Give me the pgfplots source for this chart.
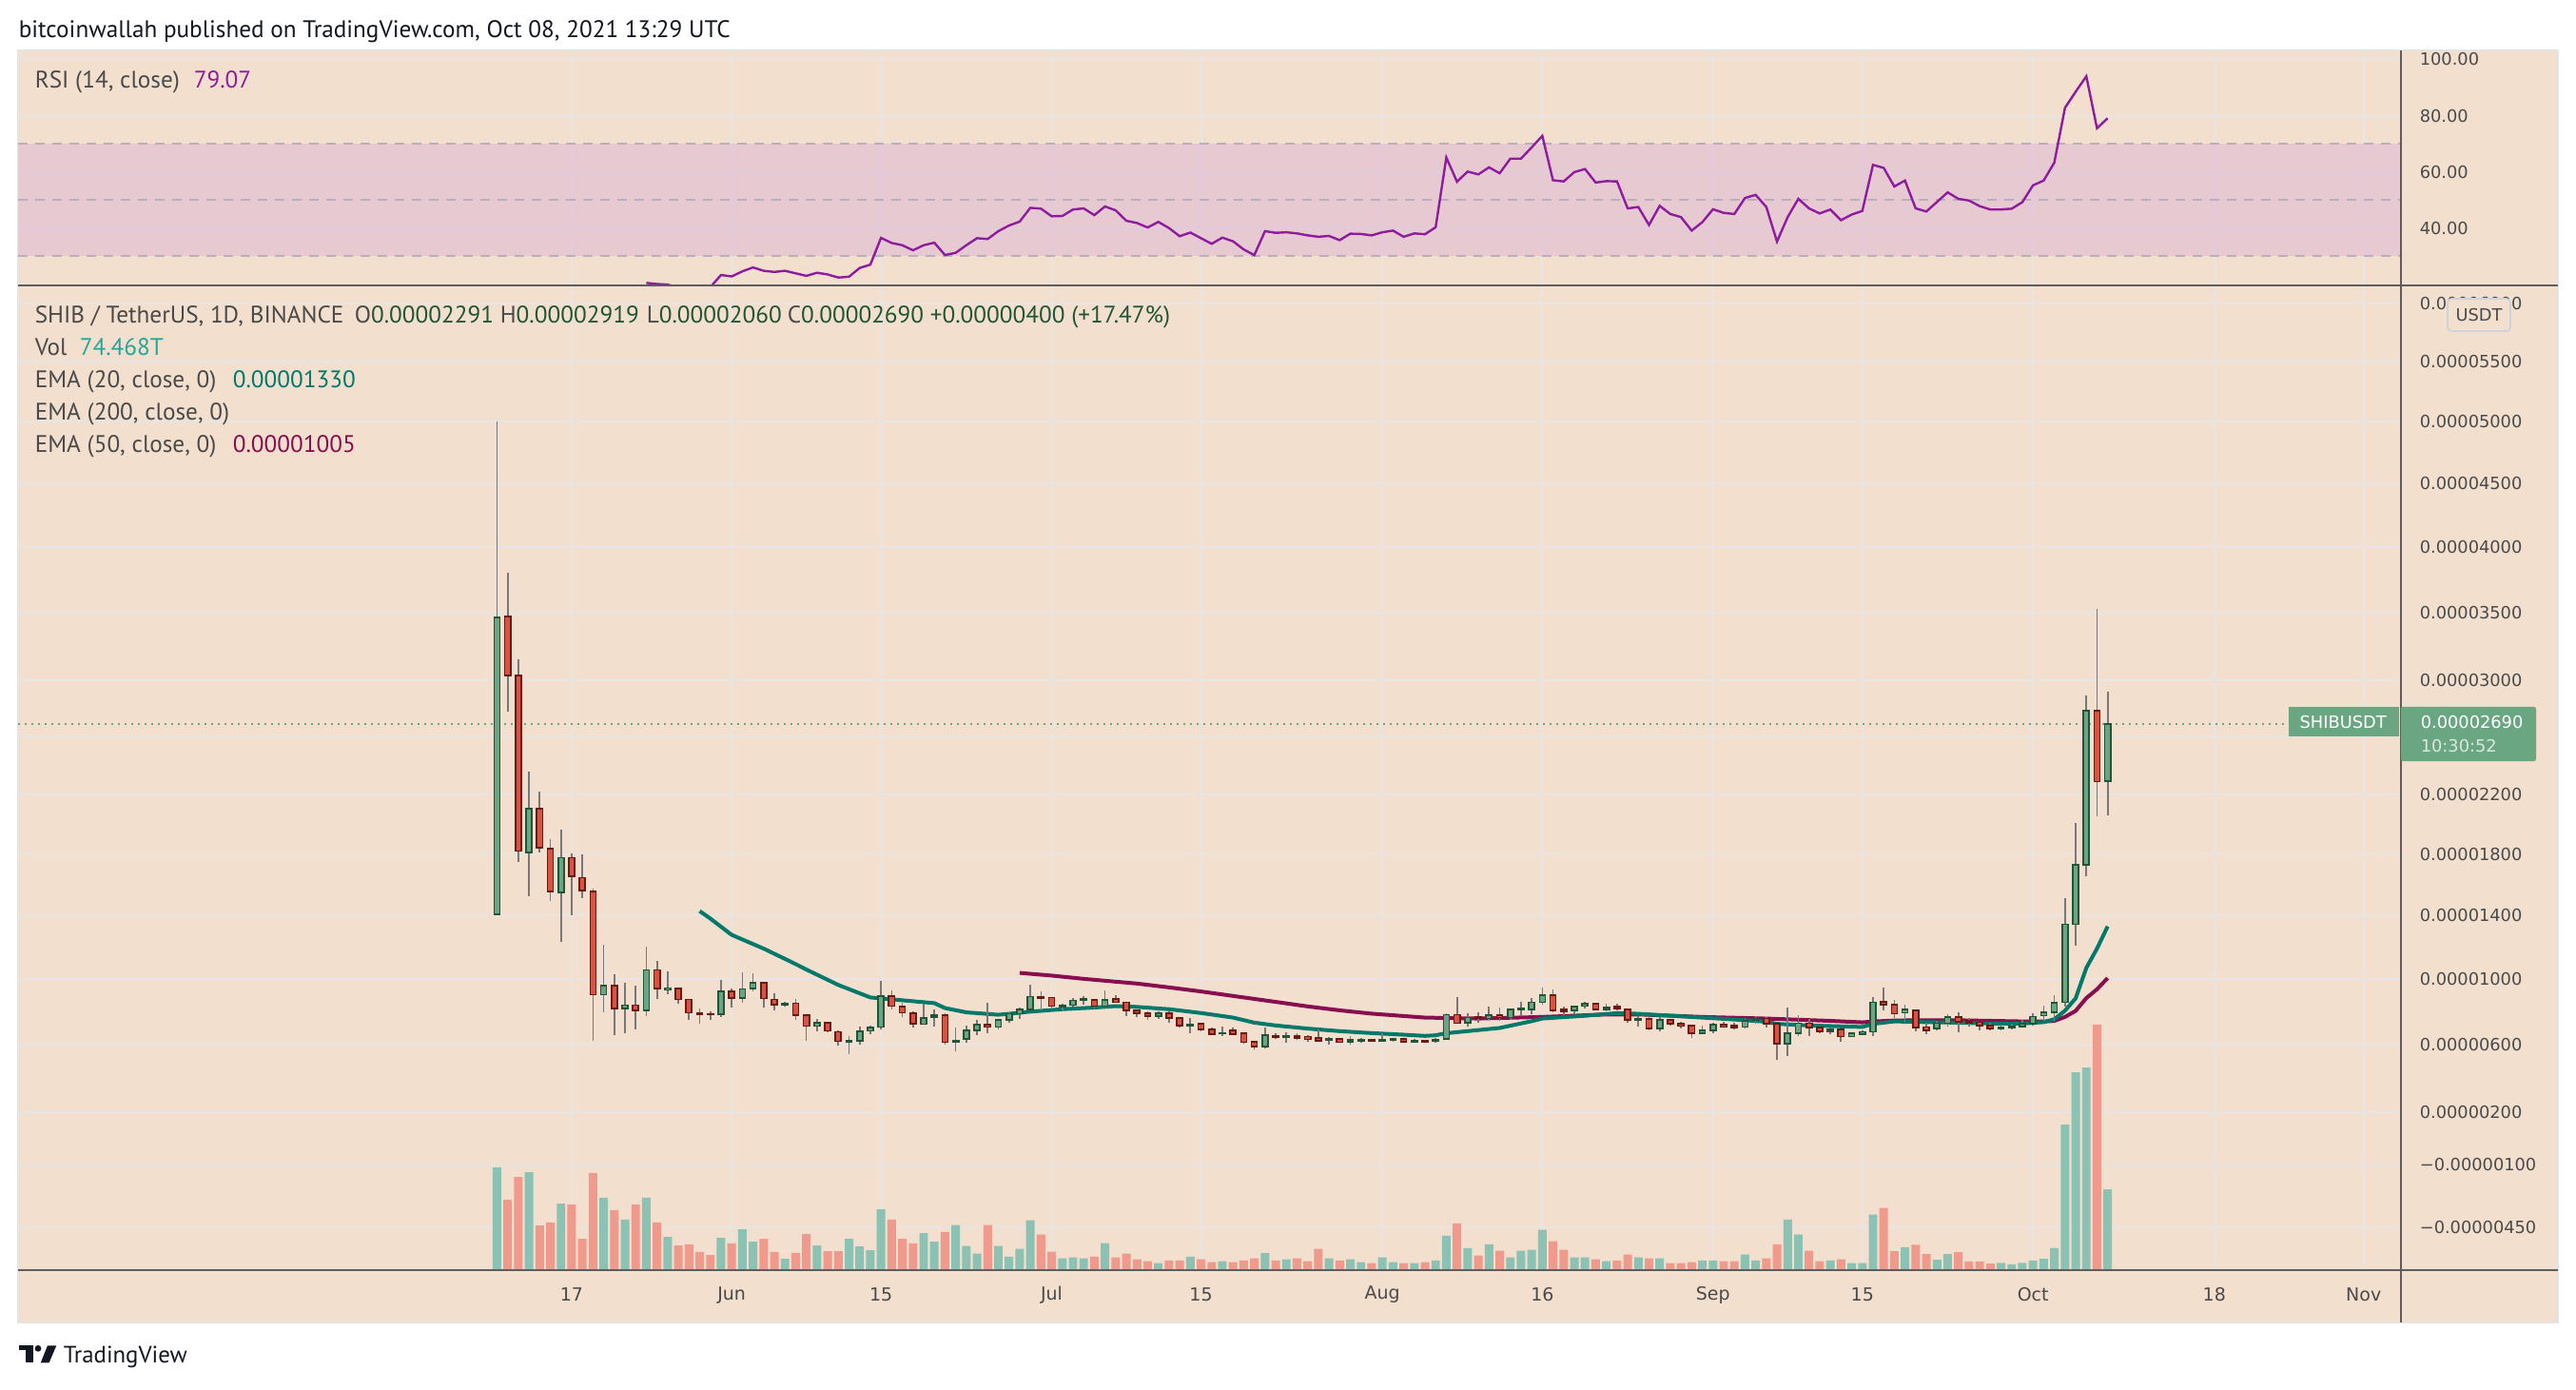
\documentclass[border=0pt]{standalone}
\usepackage{pgfplots}
\pgfplotsset{compat=1.18}
\usepackage{pgfplotstable}
\usepackage{fontspec}
\setmainfont{PT Sans}
\newfontfamily\axisfont{DejaVu Sans}

\definecolor{bgtan}{RGB}{242,223,206}
\definecolor{gridc}{RGB}{231,229,228}
\definecolor{bandc}{RGB}{222,181,214}
\definecolor{dashc}{RGB}{184,174,190}
\definecolor{rsic}{RGB}{142,28,158}
\definecolor{upfill}{RGB}{107,165,131}
\definecolor{upedge}{RGB}{34,84,55}
\definecolor{dnfill}{RGB}{215,84,66}
\definecolor{dnedge}{RGB}{107,26,19}
\definecolor{wickc}{RGB}{120,120,122}
\definecolor{volup}{RGB}{140,194,180}
\definecolor{voldn}{RGB}{240,153,141}
\definecolor{ema20c}{RGB}{0,121,107}
\definecolor{ema50c}{RGB}{136,14,79}
\definecolor{sepc}{RGB}{93,93,93}
\definecolor{labc}{RGB}{74,74,74}
\definecolor{pricec}{RGB}{107,166,131}
\definecolor{ohlcc}{RGB}{34,85,52}
\definecolor{volc}{RGB}{38,166,154}
\definecolor{inkc}{RGB}{19,23,34}
\definecolor{panelb}{RGB}{228,228,228}

\newcommand\axfont{\axisfont\fontsize{4.45pt}{5pt}\selectfont}
\newcommand\xfont{\axisfont\fontsize{4.75pt}{5.5pt}\selectfont}
\newcommand\lgfont{\fontsize{6.3pt}{7.3pt}\selectfont}

% d = days since 2021-05-10; prices in units of 1e-8 USDT; V in T
\pgfplotstableread{
d O H L C V
0 1408 5000 1400 3462 94.7
1 3468 3803 2776 3038 64.9
2 3038 3152 1747 1820 85.9
3 1811 2354 1525 2101 90.3
4 2101 2217 1811 1840 41.2
5 1834 1896 1492 1553 43.9
6 1550 1962 1232 1775 61.4
7 1775 1803 1400 1653 60.5
8 1645 1797 1511 1561 28.9
9 1553 1575 623 903 89.5
10 903 1211 796 957 66.7
11 957 1026 654 819 55.3
12 819 975 669 837 46.5
13 837 959 689 806 60.5
14 806 1200 771 1055 66.7
15 1055 1111 873 941 43.9
16 931 1045 903 944 30.7
17 941 945 847 873 22.8
18 873 878 745 791 23.7
19 791 817 725 781 16.7
20 786 800 745 781 14.0
21 783 993 765 924 29.8
22 924 939 822 880 24.6
23 880 1039 852 937 37.7
24 939 1034 924 975 26.3
25 975 980 822 878 28.9
26 873 908 806 842 16.7
27 840 857 827 850 10.5
28 850 873 750 776 15.8
29 776 783 623 710 33.3
30 710 755 680 730 22.8
31 732 737 675 682 17.5
32 676 684 593 618 17.5
33 615 651 543 620 28.9
34 620 707 597 677 21.9
35 682 715 664 702 18.4
36 705 985 689 893 56.1
37 893 929 811 832 46.5
38 827 852 765 791 28.9
39 789 801 700 725 24.6
40 722 847 717 758 34.2
41 766 810 709 775 26.3
42 775 789 600 613 35.3
43 613 703 556 623 41.5
44 632 712 608 684 22.2
45 684 747 655 718 15.2
46 718 851 670 705 41.5
47 705 756 690 747 22.2
48 747 794 728 785 12.5
49 785 823 756 810 19.6
50 810 966 804 890 45.9
51 890 924 804 880 32.7
52 884 884 813 832 16.9
53 829 846 804 836 10.8
54 838 880 827 867 11.7
55 867 895 842 874 10.8
56 870 870 813 832 12.5
57 832 931 827 870 24.8
58 874 899 851 855 11.7
59 855 855 771 804 15.2
60 806 813 766 790 9.9
61 790 800 750 771 8.2
62 770 800 756 789 6.4
63 789 800 728 758 9.0
64 760 760 699 712 9.0
65 714 760 665 722 12.5
66 724 731 676 690 9.9
67 690 703 655 661 7.3
68 667 709 651 670 8.2
69 684 703 655 661 7.3
70 667 667 602 613 9.0
71 617 623 568 587 10.8
72 587 699 573 655 16.0
73 651 667 632 642 9.0
74 644 674 608 651 9.9
75 651 667 625 640 10.8
76 648 655 613 630 8.2
77 640 693 617 623 19.6
78 627 642 600 636 10.8
79 632 632 608 613 9.0
80 615 651 600 627 9.9
81 623 636 609 630 7.3
82 627 627 617 621 6.4
83 621 670 617 627 11.7
84 625 640 617 632 7.3
85 632 640 609 615 6.4
86 613 632 608 621 6.4
87 623 627 609 615 7.3
88 619 640 608 627 9.0
89 632 789 625 779 31.8
90 779 890 722 728 43.2
91 731 789 705 762 20.4
92 766 794 728 760 13.4
93 756 832 750 775 23.9
94 775 823 743 762 17.8
95 762 813 756 813 11.7
96 812 857 779 819 17.8
97 810 880 785 855 18.7
98 855 947 838 899 37.1
99 899 933 794 804 26.6
100 810 832 775 800 18.7
101 804 830 785 830 11.7
102 832 861 819 848 11.7
103 848 850 808 813 9.9
104 813 846 800 823 8.2
105 827 846 808 817 9.0
106 813 819 728 747 14.3
107 749 771 709 756 11.7
108 752 766 686 695 10.8
109 697 766 680 747 10.8
110 747 750 716 724 6.4
111 724 737 697 710 6.4
112 712 712 640 667 7.3
113 667 712 659 684 9.0
114 684 728 665 718 9.0
115 720 737 699 705 8.2
116 714 728 690 703 8.2
117 705 762 697 743 14.3
118 747 766 722 756 9.0
119 756 766 699 724 10.8
120 724 724 505 604 23.9
121 604 823 533 667 46.7
122 667 775 648 728 32.7
123 728 756 650 701 17.8
124 701 701 670 678 8.2
125 678 699 661 690 9.0
126 690 690 613 648 9.9
127 648 670 642 667 6.4
128 663 684 657 676 6.4
129 676 890 648 855 51.1
130 857 947 808 842 57.3
131 842 867 762 786 17.5
132 791 838 731 812 21.0
133 807 807 676 702 23.3
134 705 731 663 684 14.9
135 694 741 682 728 9.6
136 728 781 707 765 14.9
137 765 794 671 736 16.5
138 741 762 707 731 8.1
139 733 733 682 712 8.1
140 715 728 684 697 6.1
141 694 720 684 702 6.8
142 700 725 689 707 5.3
143 707 747 702 723 6.8
144 723 789 715 768 8.9
145 773 833 741 794 10.4
146 794 901 739 854 20.2
147 856 1510 830 1343 134.1
148 1343 2004 1208 1727 182.4
149 1727 2891 1654 2784 186.8
150 2784 3526 2054 2287 226.3
151 2291 2919 2060 2690 74.468
}\candles

\pgfplotstableread{
d rsi
14 20.5
15 20.1
16 19.9
17 18.6
18 17.2
19 17.6
20 19.0
21 23.3
22 22.8
23 24.6
24 26.0
25 24.8
26 24.4
27 24.8
28 23.9
29 23.0
30 24.1
31 23.5
32 22.4
33 22.7
34 25.8
35 27.0
36 36.5
37 34.7
38 33.9
39 32.1
40 33.9
41 34.8
42 30.4
43 31.2
44 33.9
45 36.4
46 36.1
47 38.9
48 40.9
49 42.3
50 47.2
51 46.9
52 44.2
53 44.3
54 46.6
55 47.0
56 44.6
57 47.7
58 46.3
59 42.6
60 41.8
61 40.2
62 42.2
63 40.0
64 37.1
65 38.4
66 36.4
67 34.4
68 36.6
69 35.3
70 32.4
71 30.4
72 38.9
73 38.3
74 38.5
75 38.1
76 37.4
77 36.9
78 37.2
79 35.7
80 38.0
81 37.9
82 37.4
83 38.5
84 39.1
85 36.9
86 38.1
87 37.8
88 40.3
89 65.1
90 56.5
91 60.1
92 59.1
93 61.6
94 59.5
95 64.7
96 64.7
97 68.7
98 72.8
99 57.0
100 56.6
101 59.9
102 61.0
103 56.2
104 56.7
105 56.6
106 47.0
107 47.5
108 41.1
109 47.9
110 45.0
111 43.9
112 39.1
113 42.1
114 46.7
115 45.4
116 45.0
117 50.7
118 51.8
119 47.5
120 35.2
121 43.9
122 50.4
123 47.0
124 45.2
125 46.6
126 42.8
127 44.8
128 46.1
129 62.5
130 61.4
131 54.8
132 56.9
133 47.0
134 45.9
135 49.3
136 52.7
137 50.4
138 49.8
139 47.8
140 46.6
141 46.6
142 46.9
143 49.2
144 55.2
145 56.9
146 63.3
147 82.8
148 88.5
149 94.0
150 75.5
151 79.07
}\rsitable

\pgfplotstableread{
d ema
19 1428
20 1380
22 1276
25 1189
28 1092
29 1058
32 962
35 885
38 868
41 850
42 820
44 794
47 779
48 785
50 798
53 813
56 823
58 832
60 827
63 813
66 790
69 762
71 731
73 714
76 695
79 680
82 668
85 658
87 651
88 655
89 667
94 699
97 740
98 756
102 773
105 789
107 785
113 762
116 750
119 737
120 724
123 714
128 705
129 724
131 739
134 734
137 731
140 726
143 726
145 734
146 752
147 804
148 880
149 1068
150 1189
151 1330
}\emaA

\pgfplotstableread{
d ema
49 1037
52 1020
55 1000
60 971
63 947
66 922
70 885
73 858
76 830
79 806
82 786
87 762
92 756
98 766
104 781
107 781
113 766
119 756
125 742
128 733
129 738
131 744
133 746
137 746
143 739
145 738
146 742
147 766
148 803
149 881
150 936
151 1005
}\emaB

\pgfplotsset{
  wick/.style={draw=wickc, line width=0.42pt},
  greenbody/.style={fill=upfill, draw=upedge, line width=0.42pt},
  redbody/.style={fill=dnfill, draw=dnedge, line width=0.42pt},
  tvbase/.style={scale only axis, width=626.25pt, anchor=south west,
    xmin=-44.9, xmax=178.5, axis line style={draw=none}, major tick length=0pt,
    xtick={7,22,36,52,66,83,98,114,128,144,161,175},
    grid style={draw=gridc, line width=0.5pt}},
}

\begin{document}
\begin{tikzpicture}
\path[use as bounding box] (0pt,0pt) rectangle (677pt,365pt);
\fill[white] (0pt,0pt) rectangle (677pt,365pt);
\filldraw[fill=bgtan, draw=panelb, line width=0.4pt] (4.75pt,17.5pt) rectangle (672.25pt,351.75pt);

% ---------------- RSI panel
\begin{axis}[tvbase,
  at={(4.75pt,290pt)}, height=61.75pt,
  ymin=19.6, ymax=103.2,
  xticklabels={,,,,,,,,,,,,},
  ytick={40,60,80,100}, yticklabels={40.00,60.00,80.00,100.00},
  yticklabel pos=right, xmajorgrids, ymajorgrids,
  yticklabel style={font=\axfont, text=labc, anchor=west, inner sep=0pt, xshift=4.75pt},
]
\addplot[draw=none, fill=bandc, fill opacity=0.5] coordinates {(-44.9,30) (178.5,30) (178.5,70) (-44.9,70)} -- cycle;
\addplot[dashc, line width=0.5pt, dash pattern=on 2.5pt off 2pt] coordinates {(-44.9,70) (178.5,70)};
\addplot[dashc, line width=0.5pt, dash pattern=on 2.5pt off 2pt] coordinates {(-44.9,50) (178.5,50)};
\addplot[dashc, line width=0.5pt, dash pattern=on 2.5pt off 2pt] coordinates {(-44.9,30) (178.5,30)};
\addplot[rsic, line width=0.6pt] table[x=d, y=rsi] {\rsitable};
\end{axis}

% ---------------- price panel
\begin{axis}[tvbase,
  at={(4.75pt,31.25pt)}, height=258.75pt,
  ymin=-680, ymax=6160,
  y coord trafo/.code={\begingroup\pgfkeys{/pgf/fpu=true,/pgf/fpu/output format=fixed}\pgfmathparse{ln(#1/100+112)}\xdef\shibtmp{\pgfmathresult}\endgroup\let\pgfmathresult\shibtmp},
  xticklabels={17,Jun,15,Jul,15,Aug,16,Sep,15,Oct,18,Nov},
  ytick={6000,5500,5000,4500,4000,3500,3000,2600,2200,1800,1400,1000,600,200,-100,-450},
  yticklabels={0.00006000,0.00005500,0.00005000,0.00004500,0.00004000,0.00003500,0.00003000,,0.00002200,0.00001800,0.00001400,0.00001000,0.00000600,0.00000200,−0.00000100,−0.00000450},
  yticklabel pos=right, xmajorgrids, ymajorgrids,
  xticklabel style={font=\xfont, text=labc, anchor=center, inner sep=0pt, yshift=-6.5pt},
  yticklabel style={font=\axfont, text=labc, anchor=west, inner sep=0pt, xshift=4.75pt},
]
\addplot[pricec, line width=0.45pt, dash pattern=on 0.5pt off 1.25pt] coordinates {(-44.9,2690) (178.5,2690)};
\addplot[ema50c, line width=1pt] table[x=d, y=ema] {\emaB};
\addplot[ema20c, line width=1pt] table[x=d, y=ema] {\emaA};
\pgfplotsinvokeforeach{0,...,151}{%
  \pgfplotstablegetelem{#1}{d}\of\candles\let\cd\pgfplotsretval
  \pgfplotstablegetelem{#1}{O}\of\candles\let\cO\pgfplotsretval
  \pgfplotstablegetelem{#1}{H}\of\candles\let\cH\pgfplotsretval
  \pgfplotstablegetelem{#1}{L}\of\candles\let\cL\pgfplotsretval
  \pgfplotstablegetelem{#1}{C}\of\candles\let\cC\pgfplotsretval
  \pgfmathsetmacro\xa{\cd-0.27}%
  \pgfmathsetmacro\xb{\cd+0.27}%
  \ifdim\cC pt<\cO pt \def\cstyle{redbody}\else\def\cstyle{greenbody}\fi
  \edef\temp{\noexpand\addplot[wick] coordinates {(\cd,\cL) (\cd,\cH)};
    \noexpand\addplot[\cstyle] coordinates {(\xa,\cO) (\xb,\cO) (\xb,\cC) (\xa,\cC)} -- cycle;}%
  \temp
}
\end{axis}

% ---------------- volume overlay
\begin{axis}[tvbase,
  at={(4.75pt,31.25pt)}, height=258.75pt,
  ymin=0, ymax=907.7, hide axis,
]
\addplot[ybar, bar width=0.8, bar shift=0pt, fill=volup, draw=none,
  restrict expr to domain={\thisrow{C}-\thisrow{O}}{0:100000}] table[x=d, y=V] {\candles};
\addplot[ybar, bar width=0.8, bar shift=0pt, fill=voldn, draw=none,
  restrict expr to domain={\thisrow{O}-\thisrow{C}}{0.5:100000}] table[x=d, y=V] {\candles};
\end{axis}

% ---------------- frame lines
\draw[sepc, line width=0.5pt] (631pt,17.5pt) -- (631pt,351.75pt);
\draw[sepc, line width=0.6pt] (4.75pt,290pt) -- (672.25pt,290pt);
\draw[sepc, line width=0.6pt] (4.75pt,31.25pt) -- (672.25pt,31.25pt);

% ---------------- price labels
\fill[pricec] (601.5pt,171.4pt) rectangle (630.5pt,179.3pt);
\node[anchor=west, font=\axfont, text=white, inner sep=0pt] at (604.2pt,175.35pt) {SHIBUSDT};
\fill[pricec, rounded corners=0.6pt] (631pt,165pt) rectangle (666.5pt,179.3pt);
\node[anchor=west, font=\axfont, text=white, inner sep=0pt] at (636pt,175.35pt) {0.00002690};
\node[anchor=west, font=\axfont, text=white, text opacity=0.75, inner sep=0pt] at (636pt,169pt) {10:30:52};
\filldraw[fill=bgtan, draw={rgb,255:red,205;green,210;blue,220}, rounded corners=1pt, line width=0.4pt] (643.25pt,278pt) rectangle (659.75pt,286.5pt);
\node[font=\axfont, text=labc, inner sep=0pt] at (651.5pt,282.25pt) {USDT};

% ---------------- texts
\node[anchor=base west, inner sep=0pt, font=\lgfont, text=inkc] at (4.75pt,355.2pt) {bitcoinwallah published on TradingView.com, Oct 08, 2021 13:29 UTC};
\node[anchor=base west, inner sep=0pt, font=\lgfont, text=labc] at (9pt,341.8pt) {RSI (14, close)};
\node[anchor=base west, inner sep=0pt, font=\lgfont, text=rsic] at (50.75pt,341.8pt) {79.07};

\node[anchor=base west, inner sep=0pt, font=\lgfont, text=labc] at (9pt,280.2pt) {SHIB / TetherUS, 1D, BINANCE};
\node[anchor=base west, inner sep=0pt, font=\lgfont] at (93pt,280.2pt) {\textcolor{labc}{O}\textcolor{ohlcc}{0.00002291}};
\node[anchor=base west, inner sep=0pt, font=\lgfont] at (131.25pt,280.2pt) {\textcolor{labc}{H}\textcolor{ohlcc}{0.00002919}};
\node[anchor=base west, inner sep=0pt, font=\lgfont] at (169.75pt,280.2pt) {\textcolor{labc}{L}\textcolor{ohlcc}{0.00002060}};
\node[anchor=base west, inner sep=0pt, font=\lgfont] at (206.75pt,280.2pt) {\textcolor{labc}{C}\textcolor{ohlcc}{0.00002690}};
\node[anchor=base west, inner sep=0pt, font=\lgfont, text=ohlcc] at (244.25pt,280.2pt) {+0.00000400 (+17.47\%)};

\node[anchor=base west, inner sep=0pt, font=\lgfont, text=labc] at (9pt,271.7pt) {Vol};
\node[anchor=base west, inner sep=0pt, font=\lgfont, text=volc] at (20.75pt,271.7pt) {74.468T};
\node[anchor=base west, inner sep=0pt, font=\lgfont, text=labc] at (9pt,263.2pt) {EMA (20, close, 0)};
\node[anchor=base west, inner sep=0pt, font=\lgfont, text=ema20c] at (61pt,263.2pt) {0.00001330};
\node[anchor=base west, inner sep=0pt, font=\lgfont, text=labc] at (9pt,254.75pt) {EMA (200, close, 0)};
\node[anchor=base west, inner sep=0pt, font=\lgfont, text=labc] at (9pt,246.25pt) {EMA (50, close, 0)};
\node[anchor=base west, inner sep=0pt, font=\lgfont, text=ema50c] at (61pt,246.25pt) {0.00001005};

% ---------------- TradingView logo
\fill[inkc] (5pt,10.17pt) rectangle (8.75pt,11.42pt);
\fill[inkc] (6.83pt,6.92pt) rectangle (8.75pt,11.42pt);
\fill[inkc] (10pt,10.67pt) circle (0.85pt);
\fill[inkc] (10.7pt,6.92pt) -- (12.9pt,6.92pt) -- (14.83pt,11.42pt) -- (12.5pt,11.42pt) -- cycle;
\node[anchor=base west, inner sep=0pt, font=\fontsize{6.2pt}{7pt}\selectfont, text=inkc] at (16.5pt,6.92pt) {TradingView};
\end{tikzpicture}
\end{document}
